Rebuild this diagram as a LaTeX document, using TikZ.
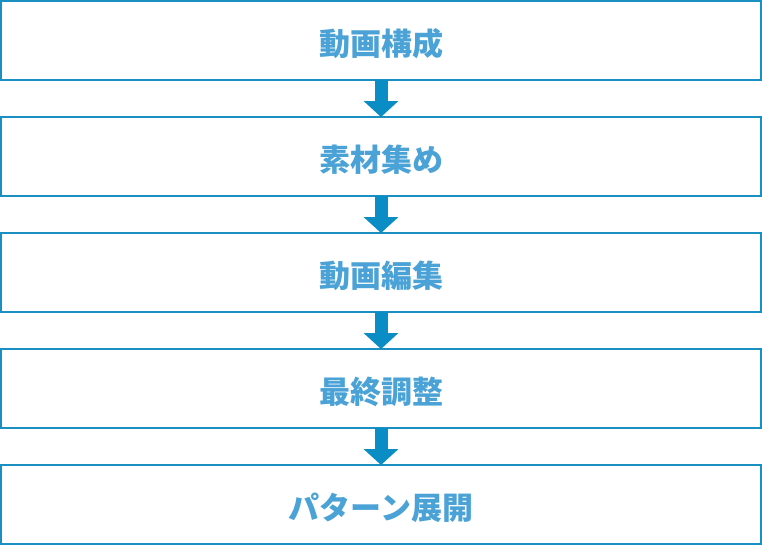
\documentclass[tikz,border=0pt]{standalone}
\usepackage{fontspec}
\newfontfamily\cjk{Noto Sans CJK JP}
\usetikzlibrary{positioning,arrows.meta}
\definecolor{boxline}{HTML}{1A8FC2}
\definecolor{boxtext}{HTML}{4AA2D6}
\definecolor{arrowcol}{HTML}{0A8CC4}
\tikzset{
  stepbox/.style={draw=boxline, line width=1.5bp, fill=white, outer sep=0pt,
    minimum width=760bp, minimum height=79bp, inner sep=0pt,
    text height=35bp, text depth=5bp,
    text=boxtext, font=\cjk\bfseries\fontsize{31bp}{36bp}\selectfont},
  flow/.style={draw=arrowcol, line width=13bp, -{Triangle[width=34bp,length=16bp]}}
}
\begin{document}
\begin{tikzpicture}
\useasboundingbox (0,0) rectangle (762bp,-546bp);
\node[stepbox] (kousei) at (381bp,-40.5bp) {動画構成};
\node[stepbox, below=37bp of kousei] (sozai) {素材集め};
\node[stepbox, below=37bp of sozai] (henshu) {動画編集};
\node[stepbox, below=37bp of henshu] (chousei) {最終調整};
\node[stepbox, below=37bp of chousei] (tenkai) {パターン展開};
\draw[flow] (kousei) -- (sozai);
\draw[flow] (sozai) -- (henshu);
\draw[flow] (henshu) -- (chousei);
\draw[flow] (chousei) -- (tenkai);
\end{tikzpicture}
\end{document}
